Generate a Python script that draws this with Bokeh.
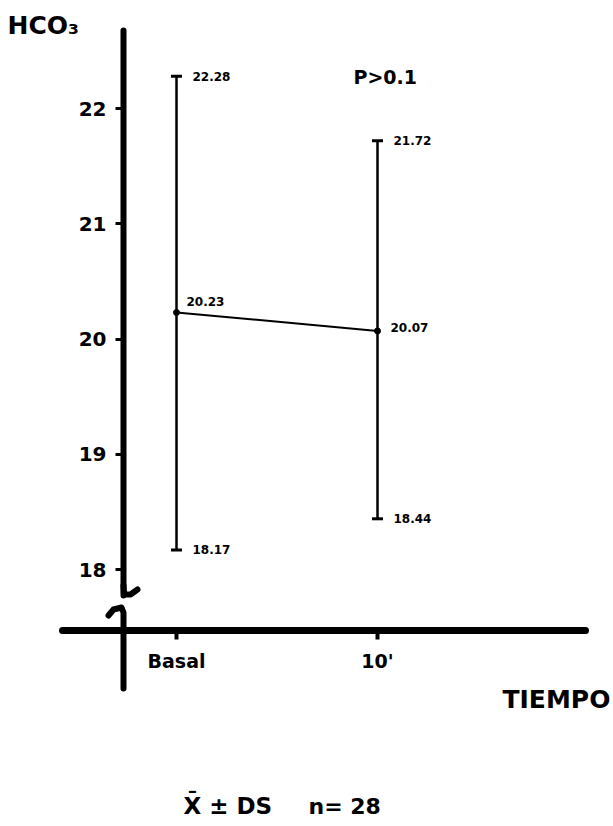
from bokeh.plotting import figure
from bokeh.models import Range1d, LinearAxis, FixedTicker, ColumnDataSource
from bokeh.core.properties import value
from bokeh.embed import file_html
from bokeh.resources import INLINE

# ---- data ----
categories = ["Basal", "10'"]
cat_pos = [0, 1]
means = [20.23, 20.07]
upper = [22.28, 21.72]
lower = [18.17, 18.44]
y_ticks = [18, 19, 20, 21, 22]
y_title = "HCO₃"
x_title = "TIEMPO"
p_text = "P>0.1"
stat_text = "X̄ ± DS"
n_text = "n= 28"

# ---- pixel <-> data helpers (layout only) ----
X0PX, XSCALE = 176.0, 201.0
Y0, Y0PX, YSCALE = 20.0, 338.5, 115.25
def Xd(px):
    return (px - X0PX) / XSCALE
def Yd(py):
    return Y0 - (py - Y0PX) / YSCALE

FONT = "DejaVu Sans"

p = figure(width=613, height=826, title=None, toolbar_location=None,
           output_backend="svg", x_axis_type=None, y_axis_type=None,
           x_range=Range1d(Xd(0), Xd(613)), y_range=Range1d(Yd(826), Yd(0)),
           min_border=0, min_border_left=0, min_border_right=0,
           min_border_top=0, min_border_bottom=0)
p.outline_line_color = None
p.background_fill_color = "white"
p.border_fill_color = "white"
p.grid.visible = False

# ---- axes ----
yaxis = LinearAxis(fixed_location=Xd(123), ticker=FixedTicker(ticks=y_ticks),
                   bounds=(Yd(595), Yd(30)))
yaxis.axis_line_width = 6
yaxis.axis_line_cap = "round"
yaxis.major_tick_out = 8
yaxis.major_tick_in = 0
yaxis.major_tick_line_width = 3
yaxis.minor_tick_line_color = None
yaxis.major_label_standoff = 9
yaxis.major_label_text_font = FONT
yaxis.major_label_text_font_style = "bold"
yaxis.major_label_text_font_size = "20px"
yaxis.major_label_text_color = "black"
p.add_layout(yaxis, "left")

xaxis = LinearAxis(fixed_location=Yd(630), ticker=FixedTicker(ticks=cat_pos),
                   major_label_overrides={i: c for i, c in zip(cat_pos, categories)},
                   bounds=(Xd(62), Xd(585)))
xaxis.axis_line_width = 7
xaxis.axis_line_cap = "round"
xaxis.major_tick_out = 9
xaxis.major_tick_in = 0
xaxis.major_tick_line_width = 4
xaxis.minor_tick_line_color = None
xaxis.major_label_standoff = 10
xaxis.major_label_text_font = FONT
xaxis.major_label_text_font_style = "bold"
xaxis.major_label_text_font_size = "19px"
xaxis.major_label_text_color = "black"
p.add_layout(xaxis, "below")

# axis break pieces
p.line([Xd(123), Xd(123.5), Xd(130), Xd(137)], [Yd(585), Yd(594), Yd(594), Yd(589)],
       line_width=6, line_color="black", line_cap="round", line_join="round")
p.line([Xd(108), Xd(113), Xd(121), Xd(123), Xd(123)],
       [Yd(615), Yd(609), Yd(607), Yd(612), Yd(688)],
       line_width=6, line_color="black", line_cap="round", line_join="round")

# ---- data marks ----
src = ColumnDataSource(dict(x=cat_pos, mean=means, up=upper, lo=lower,
                            up_t=[f"{v:.2f}" for v in upper],
                            lo_t=[f"{v:.2f}" for v in lower],
                            mean_t=[f"{v:.2f}" for v in means],
                            mx_off=[10, 13], my_off=[-11, -3]))
p.segment(x0="x", y0="lo", x1="x", y1="up", source=src, line_width=2.5, line_color="black")
p.scatter(x="x", y="up", source=src, marker="dash", size=11, line_width=3, line_color="black")
p.scatter(x="x", y="lo", source=src, marker="dash", size=11, line_width=3, line_color="black")
p.line(x="x", y="mean", source=src, line_width=2, line_color="black")
p.scatter(x="x", y="mean", source=src, size=6, color="black")

lbl = dict(text_font=value(FONT), text_font_style="bold", text_font_size="12px",
           text_baseline="middle", text_align="left", text_color="black")
p.text(x="x", y="up", text="up_t", source=src, x_offset=16, **lbl)
p.text(x="x", y="lo", text="lo_t", source=src, x_offset=16, **lbl)
p.text(x="x", y="mean", text="mean_t", source=src, x_offset="mx_off", y_offset="my_off", **lbl)

# ---- titles / annotations ----
big = dict(text_font=value(FONT), text_font_style="bold", text_baseline="middle",
           text_align="left", text_color="black")
p.text(x=[Xd(7)], y=[Yd(25)], text=[y_title], text_font_size="25px", **big)
p.text(x=[Xd(502)], y=[Yd(699)], text=[x_title], text_font_size="25px", **big)
p.text(x=[Xd(353)], y=[Yd(76)], text=[p_text], text_font_size="19px", **big)
p.text(x=[Xd(183)], y=[Yd(805)], text=[stat_text], text_font_size="23px", **big)
p.text(x=[Xd(308)], y=[Yd(806)], text=[n_text], text_font_size="22px", **big)

open("out.html", "w").write(file_html(p, INLINE))
